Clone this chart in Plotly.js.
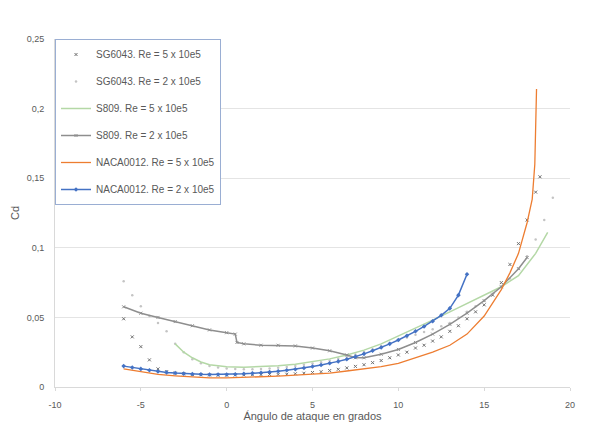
<!DOCTYPE html>
<html>
<head>
<meta charset="utf-8">
<script src="https://cdn.plot.ly/plotly-3.0.1.min.js"></script>
<style>html,body{margin:0;padding:0;background:#fff;}#chart{width:593px;height:429px;}</style>
</head>
<body>
<div id="chart"></div>
<script>
// ---- Data ----
const seriesNames = [
  "SG6043. Re = 5 x 10e5",
  "SG6043. Re = 2 x 10e5",
  "S809. Re = 5 x 10e5",
  "S809. Re = 2 x 10e5",
  "NACA0012. Re = 5 x 10e5",
  "NACA0012. Re = 2 x 10e5"
];

const sg5_alpha = [-6,-5.5,-5,-4.5,-4,-3.5,-3,-2.5,-2,-1.5,-1,-0.5,0,0.5,1,1.5,2,2.5,3,3.5,4,4.5,5,5.5,6,6.5,7,7.5,8,8.5,9,9.5,10,10.5,11,11.5,12,12.5,13,13.5,14,14.5,15,15.5,16,16.5,17,17.5,18,18.25];
const sg5_cd = [0.049,0.036,0.029,0.0195,0.013,0.011,0.010,0.0095,0.009,0.0088,0.0086,0.0085,0.0085,0.0086,0.0087,0.0088,0.0089,0.009,0.009,0.0092,0.0095,0.0099,0.0104,0.011,0.0118,0.0127,0.0137,0.0148,0.016,0.0175,0.019,0.021,0.023,0.025,0.028,0.030,0.033,0.036,0.040,0.044,0.049,0.054,0.059,0.066,0.075,0.088,0.103,0.120,0.140,0.151];

const sg2_alpha = [-6,-5.5,-5,-4.5,-4,-3.5,-3,-2.5,-2,-1.5,-1,-0.5,0,0.5,1,1.5,2,2.5,3,3.5,4,4.5,5,5.5,6,6.5,7,7.5,8,8.5,9,9.5,10,10.5,11,11.5,12,12.5,13,13.5,14,14.5,15,15.5,16,16.5,17,17.5,18,18.5,19];
const sg2_cd = [0.076,0.066,0.058,0.051,0.046,0.040,0.031,0.025,0.020,0.017,0.015,0.014,0.0133,0.013,0.0128,0.0128,0.013,0.0133,0.0138,0.0144,0.0151,0.0159,0.0168,0.0178,0.019,0.0203,0.0218,0.0234,0.0252,0.0272,0.0294,0.0316,0.0335,0.0355,0.0375,0.0395,0.0415,0.0437,0.046,0.050,0.054,0.058,0.062,0.067,0.072,0.078,0.085,0.094,0.106,0.120,0.136];

const s809_5_alpha = [-3,-2.5,-2,-1.5,-1,0,1,2,3,4,5,6,7,8,9,10,11,12,13,14,15,16,17,18,18.7];
const s809_5_cd = [0.031,0.025,0.021,0.018,0.016,0.0145,0.0142,0.0145,0.0152,0.0163,0.018,0.0202,0.023,0.0265,0.031,0.0365,0.0425,0.048,0.054,0.060,0.066,0.072,0.080,0.096,0.111];

const s809_2_alpha = [-6,-5,-4,-3,-2,-1,0,0.5,0.6,1,2,3,4,5,6,7,7.5,8,9,10,11,12,13,14,15,16,17,17.5];
const s809_2_cd = [0.0576,0.053,0.050,0.047,0.044,0.041,0.039,0.038,0.032,0.031,0.030,0.030,0.0295,0.028,0.026,0.023,0.021,0.021,0.0235,0.027,0.032,0.038,0.045,0.053,0.062,0.072,0.085,0.093];

const naca5_alpha = [-6,-5,-4,-3,-2,-1,0,1,2,3,4,5,6,7,8,9,10,11,12,13,14,15,16,16.5,17,17.5,17.8,17.95,18.05];
const naca5_cd = [0.013,0.011,0.009,0.008,0.007,0.0065,0.0065,0.0068,0.0072,0.0078,0.0085,0.0093,0.010,0.0115,0.013,0.0147,0.017,0.021,0.025,0.030,0.038,0.051,0.070,0.082,0.096,0.118,0.135,0.160,0.214];

const naca2_alpha = [-6,-5.5,-5,-4.5,-4,-3.5,-3,-2.5,-2,-1.5,-1,-0.5,0,0.5,1,1.5,2,2.5,3,3.5,4,4.5,5,5.5,6,6.5,7,7.5,8,8.5,9,9.5,10,10.5,11,11.5,12,12.5,13,13.5,14];
const naca2_cd = [0.015,0.014,0.013,0.012,0.0112,0.0105,0.010,0.0096,0.0093,0.0091,0.009,0.009,0.009,0.0092,0.0095,0.0098,0.0102,0.0107,0.0113,0.012,0.0128,0.0137,0.0147,0.0158,0.017,0.0184,0.020,0.0218,0.0238,0.026,0.0284,0.031,0.0338,0.0368,0.040,0.0435,0.0473,0.0515,0.0565,0.066,0.081];

const yTickVals = [0, 0.05, 0.1, 0.15, 0.2, 0.25];
const yTickText = ["0", "0,05", "0,1", "0,15", "0,2", "0,25"];
const xTickVals = [-10, -5, 0, 5, 10, 15, 20];

// ---- Traces ----
const traces = [
  {x: sg5_alpha, y: sg5_cd, name: seriesNames[0], mode: "markers", legendgroup: "g1",
   marker: {symbol: "x-thin", size: 3, color: "#707070", line: {width: 1, color: "#707070"}}},
  {x: sg2_alpha, y: sg2_cd, name: seriesNames[1], mode: "markers", legendgroup: "g2",
   marker: {symbol: "circle", size: 2.5, color: "#c4c4c4"}},
  {x: s809_5_alpha, y: s809_5_cd, name: seriesNames[2], mode: "lines", legendgroup: "g3",
   line: {color: "#b4d8a6", width: 1.5}},
  {x: s809_2_alpha, y: s809_2_cd, name: seriesNames[3], mode: "lines+markers", legendgroup: "g4",
   line: {color: "#8e8e8e", width: 1.5}, marker: {symbol: "x-thin", size: 3, color: "#8e8e8e", line: {width: 1, color: "#8e8e8e"}}},
  {x: naca5_alpha, y: naca5_cd, name: seriesNames[4], mode: "lines", legendgroup: "g5",
   line: {color: "#ED7D31", width: 1.3}},
  {x: naca2_alpha, y: naca2_cd, name: seriesNames[5], mode: "lines+markers", legendgroup: "g6",
   line: {color: "#4472C4", width: 1.5}, marker: {symbol: "diamond", size: 3.5, color: "#4472C4"}}
];

const layout = {
  width: 593, height: 429,
  margin: {l: 55, r: 23, t: 39, b: 42},
  paper_bgcolor: "#fff", plot_bgcolor: "#fff",
  font: {family: "Liberation Sans, Arial, sans-serif", size: 10, color: "#595959"},
  showlegend: true,
  legend: {x: 0, y: 1, xanchor: "left", yanchor: "top", xref: "paper", yref: "paper",
    bgcolor: "#fff", bordercolor: "#9aaed3", borderwidth: 1,
    font: {size: 10, color: "#595959"}, tracegroupgap: 8, traceorder: "grouped"},
  xaxis: {range: [-10, 20], tickvals: xTickVals, ticktext: xTickVals.map(String),
    showgrid: false, zeroline: false, showline: true, linecolor: "#d9d9d9", linewidth: 1,
    ticks: "outside", ticklen: 3, tickcolor: "#d9d9d9", ticklabelstandoff: 6,
    tickfont: {size: 9, color: "#595959"},
    title: {text: "Ángulo de ataque en grados", font: {size: 11, color: "#595959"}, standoff: 2}},
  yaxis: {range: [0, 0.25], tickvals: yTickVals, ticktext: yTickText,
    showgrid: true, gridcolor: "#e4e4e4", gridwidth: 1, zeroline: false,
    showline: true, linecolor: "#d9d9d9", linewidth: 1, ticklabelstandoff: 8,
    tickfont: {size: 9, color: "#595959"},
    title: {text: "Cd", font: {size: 11, color: "#595959"}, standoff: 4}}
};

Plotly.newPlot("chart", traces, layout, {displayModeBar: false, staticPlot: true});
</script>
</body>
</html>
